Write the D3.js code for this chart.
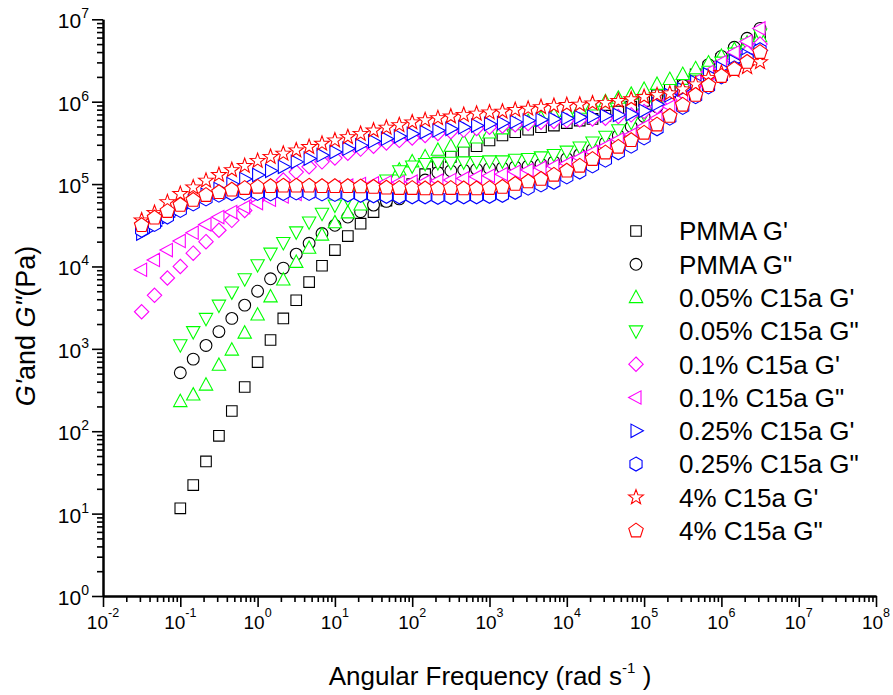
<!DOCTYPE html>
<html><head><meta charset="utf-8">
<script src="https://cdn.jsdelivr.net/npm/d3@7"></script>
<style>html,body{margin:0;padding:0;background:#fff;} svg{display:block;font-family:"Liberation Sans",Arial,Helvetica,sans-serif;}</style>
</head><body><svg id="chart" width="893" height="695"></svg>
<script>
// ---------- DATA ----------
const freq = [0.0316, 0.0464, 0.0681, 0.1, 0.147, 0.215, 0.316, 0.464, 0.681,
  1, 1.47, 2.15, 3.16, 4.64, 6.81,
  10, 14.7, 21.5, 31.6, 46.4, 68.1,
  100, 147, 215, 316, 464, 681,
  1000, 1470, 2150, 3160, 4640, 6810,
  1e4, 1.47e4, 2.15e4, 3.16e4, 4.64e4, 6.81e4,
  1e5, 1.47e5, 2.15e5, 3.16e5, 4.64e5, 6.81e5,
  1e6, 1.47e6, 2.15e6, 3.16e6];

const pmmaGp = [null, null, null, 11.6, 22.2, 43, 88, 176, 344,
  690, 1280, 2340, 3890, 6460, 10200,
  15800, 23400, 33100, 45700, 63100, 75900,
  100000, 132000, 182000, 214000, 245000, 288000,
  339000, 389000, 427000, 457000, 490000, 513000,
  550000, 589000, 617000, 676000, 759000, 871000,
  1.02e6, 1.2e6, 1.45e6, 1.74e6, 2.14e6, 2.63e6,
  3.31e6, 4.17e6, 5.25e6, 6.61e6];

const pmmaGpp = [null, null, null, 513, 750, 1100, 1620, 2340, 3390,
  5010, 7080, 9550, 14100, 19100, 25100,
  31600, 39800, 46200, 55600, 61700, 66100,
  79400, 112000, 138000, 145000, 148000, 151000,
  155000, 158000, 162000, 166000, 174000, 186000,
  204000, 229000, 263000, 316000, 389000, 501000,
  661000, 871000, 1.17e6, 1.58e6, 2.14e6, 2.82e6,
  3.55e6, 4.57e6, 5.89e6, 7.76e6];

const c005Gp = [null, null, null, 229, 275, 363, 631, 966, 1550,
  2570, 4270, 6840, 11200, 16600, 24000,
  33900, 44700, 55600, 74100, 97700, 148000,
  186000, 214000, 257000, 288000, 324000, 363000,
  417000, 468000, 525000, 575000, 631000, 692000,
  759000, 832000, 912000, 1.0e6, 1.1e6, 1.23e6,
  1.41e6, 1.62e6, 1.86e6, 2.14e6, 2.51e6, 2.95e6,
  3.55e6, 4.27e6, 5.13e6, 6.17e6];

const c005Gpp = [null, null, null, 1120, 1620, 2340, 3390, 4900, 7080,
  10500, 14500, 19500, 26300, 34700, 44200,
  55600, 66100, 75900, 87100, 112000, 145000,
  166000, 178000, 182000, 184000, 186000, 188000,
  191000, 191000, 200000, 204000, 214000, 229000,
  251000, 282000, 324000, 380000, 457000, 562000,
  708000, 891000, 1.12e6, 1.41e6, 1.82e6, 2.34e6,
  3.02e6, 3.89e6, 5.01e6, 6.61e6];

const c01Gp = [2820, 4470, 7240, 10000, 14500, 20000, 27500, 36300, 47900,
  64600, 85100, 112000, 140000, 162000, 186000,
  207000, 237000, 266000, 288000, 316000, 339000,
  363000, 389000, 412000, 432000, 452000, 473000,
  490000, 507000, 525000, 543000, 562000, 575000,
  589000, 603000, 617000, 631000, 661000, 692000,
  759000, 871000, 1.05e6, 1.29e6, 1.62e6, 2.0e6,
  2.51e6, 3.16e6, 3.98e6, 5.01e6];

const c01Gpp = [9120, 12000, 15800, 20400, 25700, 32400, 39800, 45700, 52500,
  58900, 64600, 70800, 75900, 81300, 87100,
  91200, 95500, 100000, 102000, 105000, 105000,
  107000, 107000, 110000, 112000, 117000, 123000,
  126000, 132000, 141000, 148000, 158000, 166000,
  178000, 209000, 245000, 288000, 347000, 398000,
  501000, 631000, 871000, 1.23e6, 1.78e6, 2.29e6,
  3.02e6, 3.98e6, 5.37e6, 7.76e6];

const c025Gp = [25100, 30900, 39800, 50100, 61700, 74100, 87100, 100000, 115000,
  129000, 145000, 162000, 186000, 204000, 224000,
  245000, 269000, 295000, 331000, 355000, 380000,
  407000, 427000, 447000, 468000, 490000, 513000,
  537000, 550000, 569000, 589000, 603000, 617000,
  631000, 646000, 661000, 676000, 692000, 708000,
  776000, 933000, 1.2e6, 1.41e6, 1.74e6, 2.14e6,
  2.57e6, 3.09e6, 3.63e6, 4.17e6];

const c025Gpp = [27500, 32400, 39800, 47900, 57500, 66100, 73300, 76700, 77600,
  77000, 76000, 77000, 78000, 77000, 76000,
  75000, 74000, 73000, 72000, 71000, 70000,
  70000, 70000, 69000, 69000, 70000, 70000,
  71000, 73000, 79400, 89100, 97700, 105000,
  122000, 140000, 166000, 195000, 240000, 288000,
  363000, 468000, 631000, 851000, 1.15e6, 1.51e6,
  2.0e6, 2.57e6, 3.31e6, 4.27e6];

const c4Gp = [36300, 44700, 60300, 75900, 91200, 110000, 129000, 148000, 166000,
  191000, 214000, 234000, 257000, 282000, 309000,
  339000, 372000, 407000, 447000, 484000, 519000,
  562000, 596000, 631000, 661000, 692000, 716000,
  741000, 759000, 794000, 822000, 861000, 891000,
  912000, 923000, 955000, 966000, 1.02e6, 1.07e6,
  1.14e6, 1.2e6, 1.26e6, 1.41e6, 1.62e6, 1.95e6,
  2.24e6, 2.4e6, 2.63e6, 3.02e6];

const c4Gpp = [31600, 38900, 46800, 55600, 63800, 73300, 79400, 85100, 89100,
  92300, 94000, 95000, 95000, 95000, 94000,
  94000, 94000, 93000, 92000, 90000, 89000,
  89000, 88000, 88000, 89000, 88000, 88000,
  89000, 92000, 100000, 107000, 115000, 129000,
  145000, 166000, 200000, 240000, 282000, 339000,
  417000, 525000, 668000, 912000, 1.2e6, 1.58e6,
  2.04e6, 2.48e6, 3.02e6, 3.98e6];

const legendLabels = ["PMMA G'", 'PMMA G"', "0.05% C15a G'", '0.05% C15a G"',
  "0.1% C15a G'", '0.1% C15a G"', "0.25% C15a G'", '0.25% C15a G"',
  "4% C15a G'", '4% C15a G"'];
const seriesValues = [pmmaGp, pmmaGpp, c005Gp, c005Gpp, c01Gp, c01Gpp, c025Gp, c025Gpp, c4Gp, c4Gpp];
const seriesShapes = ["square", "circle", "triUp", "triDown", "diamond", "triLeft", "triRight", "hexagon", "star", "pentagon"];
const seriesColors = ["#000000", "#000000", "#00ff00", "#00ff00", "#ff00ff", "#ff00ff", "#0000ff", "#0000ff", "#ff0000", "#ff0000"];
const xTickExps = [-2, -1, 0, 1, 2, 3, 4, 5, 6, 7, 8];
const yTickExps = [0, 1, 2, 3, 4, 5, 6, 7];

// ---------- SCALES ----------
const svg = d3.select("#chart");
const x = d3.scaleLog().domain([1e-2, 1e8]).range([103, 876]);
const y = d3.scaleLog().domain([1, 1e7]).range([596, 19.3]);

// ---------- SYMBOLS ----------
function poly(pts) { return "M" + pts.map(p => p[0].toFixed(2) + "," + p[1].toFixed(2)).join("L") + "Z"; }
function regular(n, R, start) {
  const pts = [];
  for (let k = 0; k < n; k++) { const a = (start + 360 * k / n) * Math.PI / 180; pts.push([R * Math.cos(a), R * Math.sin(a)]); }
  return poly(pts);
}
function starPath(Ro, Ri) {
  const pts = [];
  for (let k = 0; k < 10; k++) { const r = k % 2 ? Ri : Ro; const a = (-90 + 36 * k) * Math.PI / 180; pts.push([r * Math.cos(a), r * Math.sin(a)]); }
  return poly(pts);
}
const shapePaths = {
  square: poly([[-5.3, -5.3], [5.3, -5.3], [5.3, 5.3], [-5.3, 5.3]]),
  circle: "M5.9,0A5.9,5.9 0 1 1 -5.9,0A5.9,5.9 0 1 1 5.9,0Z",
  triUp: poly([[0, -7.4], [6.7, 5], [-6.7, 5]]),
  triDown: poly([[0, 7.4], [6.7, -5], [-6.7, -5]]),
  diamond: poly([[0, -7.2], [7.2, 0], [0, 7.2], [-7.2, 0]]),
  triLeft: poly([[-7.4, 0], [5, -6.7], [5, 6.7]]),
  triRight: poly([[7.4, 0], [-5, -6.7], [-5, 6.7]]),
  hexagon: regular(6, 7, -90),
  star: starPath(7.8, 3.2),
  pentagon: regular(5, 7.6, -90)
};

// ---------- AXES ----------
const minorX = [], minorY = [];
for (let e = -2; e < 8; e++) for (let k = 2; k <= 9; k++) minorX.push(k * Math.pow(10, e));
for (let e = 0; e < 7; e++) for (let k = 2; k <= 9; k++) minorY.push(k * Math.pow(10, e));
const majorX = xTickExps.map(e => Math.pow(10, e));
const majorY = yTickExps.map(e => Math.pow(10, e));

function styleAxis(g) {
  g.selectAll("path.domain").attr("stroke", "#000").attr("stroke-width", 2);
  g.selectAll(".tick line").attr("stroke", "#000").attr("stroke-width", 1.6);
}
svg.append("g").attr("transform", "translate(0,596)")
  .call(d3.axisBottom(x).tickValues(minorX).tickSize(6).tickSizeOuter(0).tickFormat(""))
  .call(styleAxis);
svg.append("g").attr("transform", "translate(0,596)")
  .call(d3.axisBottom(x).tickValues(majorX).tickSize(11).tickSizeOuter(0).tickFormat(""))
  .call(styleAxis);
svg.append("g").attr("transform", "translate(103,0)")
  .call(d3.axisLeft(y).tickValues(minorY).tickSize(6).tickSizeOuter(0).tickFormat(""))
  .call(styleAxis);
svg.append("g").attr("transform", "translate(103,0)")
  .call(d3.axisLeft(y).tickValues(majorY).tickSize(11).tickSizeOuter(0).tickFormat(""))
  .call(styleAxis);

// tick labels (10 with superscript exponent)
xTickExps.forEach(e => {
  const t = svg.append("text").attr("x", x(Math.pow(10, e))).attr("y", 628.5)
    .attr("text-anchor", "middle").attr("font-size", 19).attr("fill", "#000");
  t.append("tspan").text("10");
  t.append("tspan").attr("dy", -11.5).attr("font-size", 12.5).text(String(e));
});
yTickExps.forEach(e => {
  const t = svg.append("text").attr("x", 89).attr("y", y(Math.pow(10, e)) + 9)
    .attr("text-anchor", "end").attr("font-size", 21).attr("fill", "#000");
  t.append("tspan").text("10");
  t.append("tspan").attr("dy", -10).attr("font-size", 14).text(String(e));
});

// axis titles
const xt = svg.append("text").attr("x", 490).attr("y", 685).attr("text-anchor", "middle")
  .attr("font-size", 26).attr("fill", "#000");
xt.append("tspan").text("Angular Frequency (rad s");
xt.append("tspan").attr("dy", -12).attr("font-size", 15).text("-1");
xt.append("tspan").attr("dy", 12).text(" )");

const yt = svg.append("text").attr("transform", "translate(35,326) rotate(-90)")
  .attr("text-anchor", "middle").attr("font-size", 27).attr("fill", "#000");
yt.append("tspan").attr("font-style", "italic").text("G'");
yt.append("tspan").text("and ");
yt.append("tspan").attr("font-style", "italic").text('G"');
yt.append("tspan").text("(Pa)");

// ---------- MARKERS ----------
const plot = svg.append("g");
seriesValues.forEach((vals, si) => {
  const pts = freq.map((f, i) => ({ f: f, v: vals[i] })).filter(d => d.v != null);
  plot.append("g").selectAll("path").data(pts).join("path")
    .attr("d", shapePaths[seriesShapes[si]])
    .attr("transform", d => "translate(" + x(d.f).toFixed(2) + "," + y(d.v).toFixed(2) + ")")
    .attr("fill", "#fff").attr("stroke", seriesColors[si]).attr("stroke-width", 1.1);
});

// ---------- LEGEND ----------
const leg = svg.append("g");
legendLabels.forEach((lab, i) => {
  const cy = 231 + i * 33.3;
  leg.append("path").attr("d", shapePaths[seriesShapes[i]])
    .attr("transform", "translate(636," + cy + ")")
    .attr("fill", "#fff").attr("stroke", seriesColors[i]).attr("stroke-width", 1.1);
  leg.append("text").attr("x", 679).attr("y", cy + 9.3).attr("font-size", 26).attr("fill", "#000").text(lab);
});
</script>
</body></html>
